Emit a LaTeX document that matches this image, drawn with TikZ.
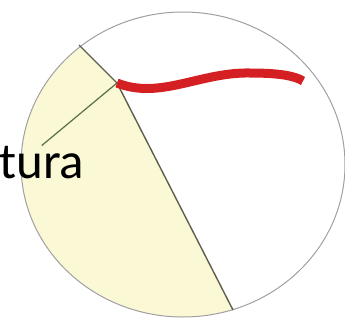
\documentclass[tikz,border=0pt]{standalone}
\usepackage{fontspec}
\setmainfont{Carlito}
\usepackage{tikz}
\usetikzlibrary{calc,positioning}
\definecolor{paleyellow}{RGB}{251,248,214}
\definecolor{rimgray}{RGB}{160,160,160}
\definecolor{cutline}{RGB}{95,95,78}
\definecolor{bloodred}{RGB}{212,32,34}
\tikzset{
  line cap=round,
  line join=round,
  rim/.style={draw=rimgray, line width=1pt},
  cut/.style={draw=cutline, line width=1.4pt},
  pointer/.style={draw=cutline!90!green, line width=1.2pt},
  vessel/.style={draw=bloodred, line width=9pt, line cap=butt},
  tag/.style={font=\fontsize{51}{54}\selectfont, inner sep=0pt, anchor=base west}
}
\begin{document}
\begin{tikzpicture}[x=1pt,y=-1pt]
    \useasboundingbox (0,0) rectangle (345,324);
    
    % cuerpo del hueso
    \fill[white] (183,164.5) ellipse [x radius=162, y radius=152.5];
    \begin{scope}
      \clip (183,164.5) ellipse [x radius=162, y radius=152.5];
      \fill[paleyellow] (40,7) -- (79,45) -- (117,83) -- (233,310) -- (250,344) -- (0,344) -- (0,7) -- cycle;
    \end{scope}
    \draw[rim] (183,164.5) ellipse [x radius=162, y radius=152.5];
    
    % linea de fractura
    \coordinate (top) at (79,45);
    \coordinate (tip) at (117,83);
    \coordinate (bottom) at (233,310);
    \draw[cut] (top) -- (tip) -- (bottom);
    
    % vaso
    \draw[vessel] (tip) .. controls (160,100) and (200,72) .. (250,73) .. controls (280,73) and (295,76) .. (303,81);
    
    % etiqueta
    \node[tag] (label) at (-1,178) {tura};
    \draw[pointer] (tip) -- (label.north);
\end{tikzpicture}
\end{document}
